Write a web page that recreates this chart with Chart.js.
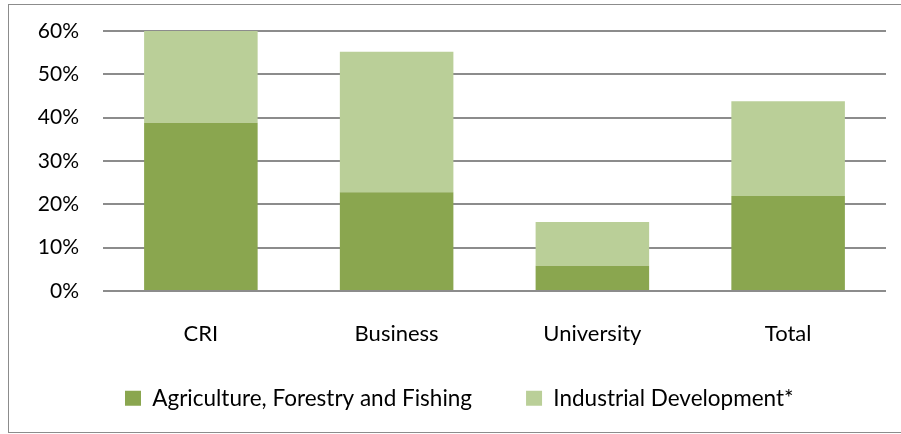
<!DOCTYPE html>
<html>
<head>
<meta charset="utf-8">
<script src="https://cdn.jsdelivr.net/npm/chart.js@4"></script>
<style>
  html, body { margin: 0; padding: 0; background: #fff; }
  #wrap { position: relative; width: 901px; height: 434px; }
  #frame { position: absolute; left: 8px; top: 4px; width: 900px; height: 429px; border: 1px solid #8c8c8c; box-sizing: border-box; }
  canvas { position: absolute; left: 0; top: 0; }
</style>
</head>
<body>
<div id="wrap">
  <div id="frame"></div>
  <canvas id="chart" width="901" height="434"></canvas>
</div>
<script>
// categories + series (percent)
const categories = ['CRI', 'Business', 'University', 'Total'];
const agriculture = [38.8, 22.8, 5.8, 21.9];
const industrial = [21.2, 32.4, 10.1, 21.9];
const yTicks = [0, 10, 20, 30, 40, 50, 60];

const FONT = 'Lato, "Liberation Sans", sans-serif';

// legend sits left of centre in the original, move its box after layout
const legendShift = {
  id: 'legendShift',
  afterLayout(chart) {
    const lg = chart.legend;
    if (!lg) return;
    lg.left = 71;
    lg.top = 333;
    lg.bottom = 434;
    lg.height = lg.bottom - lg.top;
  }
};

const ctx = document.getElementById('chart');
new Chart(ctx.getContext('2d'), {
  type: 'bar',
  data: {
    labels: categories,
    datasets: [
      { label: 'Agriculture, Forestry and Fishing', data: agriculture, backgroundColor: '#8aa64f' },
      { label: 'Industrial Development*', data: industrial, backgroundColor: '#bacf98' }
    ]
  },
  plugins: [legendShift],
  options: {
    responsive: false,
    animation: false,
    layout: { padding: { top: 31, right: 15, left: 0, bottom: 0 } },
    datasets: { bar: { categoryPercentage: 1, barPercentage: 0.58 } },
    plugins: {
      tooltip: { enabled: false },
      legend: {
        position: 'bottom',
        align: 'start',
        labels: {
          color: '#000', font: { family: FONT, size: 22.5 },
          boxWidth: 16, boxHeight: 15, padding: 54
        }
      }
    },
    scales: {
      x: {
        stacked: true,
        grid: { display: false },
        border: { display: false },
        ticks: { color: '#000', font: { family: FONT, size: 22 }, padding: 22 },
        afterFit: (s) => { s.height = 56.5; }
      },
      y: {
        stacked: true,
        min: 0, max: 60,
        afterBuildTicks: (s) => { s.ticks = yTicks.map(v => ({ value: v })); },
        grid: { color: '#8c8c8c', lineWidth: 2, drawTicks: false },
        border: { display: false },
        ticks: {
          color: '#000', font: { family: FONT, size: 21 }, padding: 24,
          callback: (v) => v + '%'
        },
        afterFit: (s) => { s.width = 103; s.paddingTop = 0; }
      }
    }
  }
});
</script>
</body>
</html>
